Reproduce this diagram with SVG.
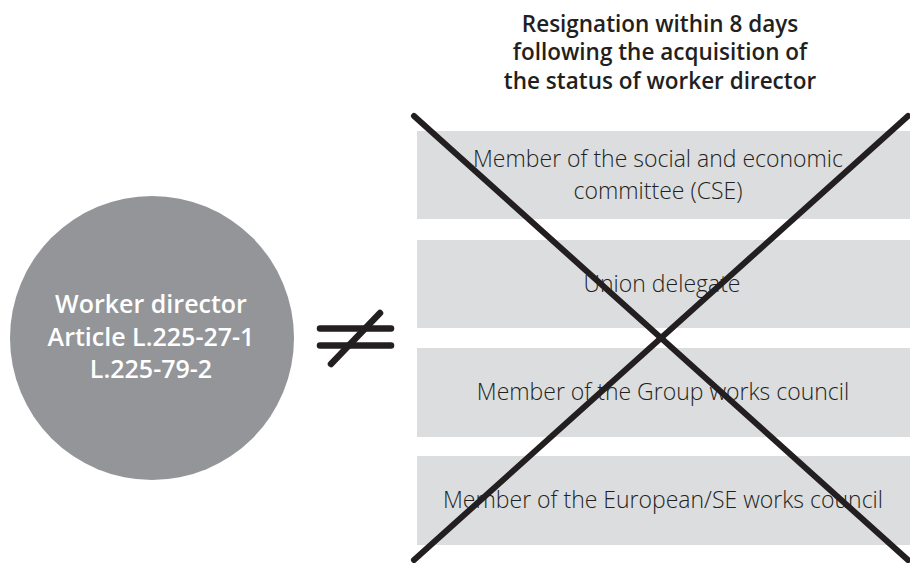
<svg xmlns="http://www.w3.org/2000/svg" width="910" height="563" viewBox="0 0 910 563">
<style>
.box{fill:#dcdddf}
.bt{font-family:"Open Sans","Noto Sans",sans-serif;font-weight:300;font-size:23px;fill:#231f20;text-anchor:middle}
.tt{font-family:"Open Sans","Noto Sans",sans-serif;font-weight:600;font-size:22.5px;fill:#231f20;text-anchor:middle}
.ct{font-family:"Open Sans","Noto Sans",sans-serif;font-weight:600;font-size:25px;fill:#ffffff;text-anchor:middle}
.stroke{stroke:#231f20;stroke-linecap:round;fill:none}
</style>
<rect width="910" height="563" fill="#ffffff"/>
<g id="title">
<text class="tt" x="660" y="32">Resignation within 8 days</text>
<text class="tt" x="660" y="60">following the acquisition of</text>
<text class="tt" x="660" y="89">the status of worker director</text>
</g>
<g id="worker-director">
<circle cx="152" cy="338" r="142" fill="#939598"/>
<text class="ct" x="151" y="313">Worker director</text>
<text class="ct" x="151" y="346">Article L.225-27-1</text>
<text class="ct" x="151" y="378">L.225-79-2</text>
</g>
<g id="not-equal">
<line class="stroke" stroke-width="6.5" x1="320" y1="328.5" x2="391" y2="328.5"/>
<line class="stroke" stroke-width="6.5" x1="320" y1="345.5" x2="391" y2="345.5"/>
<line class="stroke" stroke-width="6.5" x1="331" y1="364" x2="380" y2="313"/>
</g>
<g id="box-cse">
<rect class="box" x="417" y="131" width="493" height="88"/>
<text class="bt" x="658" y="167">Member of the social and economic</text>
<text class="bt" x="658" y="199">committee (CSE)</text>
</g>
<g id="box-union">
<rect class="box" x="417" y="240" width="493" height="88"/>
<text class="bt" x="662" y="292">Union delegate</text>
</g>
<g id="box-group">
<rect class="box" x="417" y="348" width="493" height="89"/>
<text class="bt" x="663" y="400">Member of the Group works council</text>
</g>
<g id="box-european">
<rect class="box" x="417" y="456" width="493" height="89"/>
<text class="bt" x="663" y="508">Member of the European/SE works council</text>
</g>
<g id="connectors">
<line class="stroke" stroke-width="6" x1="414" y1="116" x2="908" y2="560"/>
<line class="stroke" stroke-width="6" x1="908" y1="116" x2="414" y2="560"/>
</g>
</svg>
